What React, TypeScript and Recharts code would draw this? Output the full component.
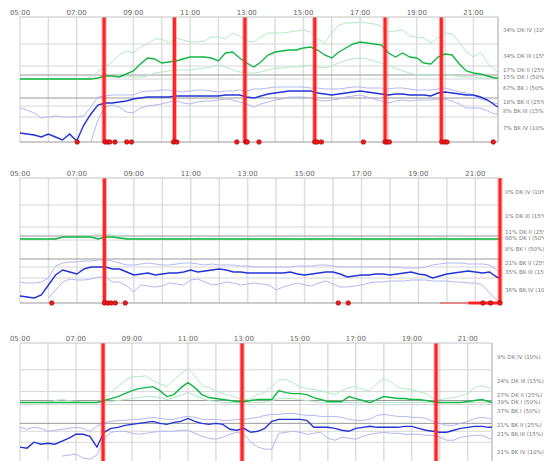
import React from "react";
import {
  ComposedChart,
  Line,
  Scatter,
  XAxis,
  YAxis,
  CartesianGrid,
  ReferenceLine,
} from "recharts";

// time axis in minutes after midnight, samples every 15 min + one at the right edge
const START = 300; // 05:00
const END = 1312; // ~21:52
const STEP = 15;
const HOUR_TICKS = [300, 360, 420, 480, 540, 600, 660, 720, 780, 840, 900, 960, 1020, 1080, 1140, 1200, 1260];

// depth scale: 0 = top of a panel, 125 = bottom
const BAND_LINES = [27, 49, 58, 62, 81, 89, 100];
const BAND_DARK = [58, 81];

const GREEN = "#12b845";
const GREEN_LIGHT = "#b4e9c4";
const BLUE = "#2433d6";
const BLUE_LIGHT = "#b3b7f4";
const RED = "#ff2424";
const FONT = "DejaVu Sans, Verdana, sans-serif";

// ---------- panel 1 ----------
const P1_LABELS = ["34% DK IV (10%)", "34% DK III (15%)", "17% DK II (25%)", "15% DK I (50%)", "67% BK I (50%)", "18% BK II (25%)", "8% BK III (15%)", "7% BK IV (10%)"];
const P1_LEVELS = [13, 39, 53, 60, 71, 85, 94, 111];
const P1_EVENTS = [478, 627, 776, 924, 1073, 1192];
const P1_ALARMS = [421, 480, 485, 490, 501, 526, 536, 625, 632, 759, 778, 781, 806, 924, 929, 938, 1027, 1073, 1077, 1082, 1193, 1199, 1204, 1302];
const P1_DK = [
  62, 62, 62, 62, 62, 62, 62, 62, 62, 62, 62, 61, 59, 59, 60, 57,
  54, 47, 41, 42, 46, 45, 44, 42, 40, 40, 40, 41, 44, 36, 35, 41,
  46, 50, 45, 38, 35, 34, 33, 33, 31, 30, 33, 38, 41, 35, 31, 27,
  25, 26, 27, 28, 36, 40, 36, 40, 41, 46, 47, 40, 37, 38, 47, 54,
  56, 57, 59, 61, 61,
];
const P1_DK_HI = [
  62, 62, 62, 62, 62, 62, 62, 62, 62, 62, 60, 55, 50, 45, 38, 34,
  36, 30, 27, 22, 22, 26, 21, 23, 25, 25, 24, 20, 20, 22, 16, 19,
  24, 25, 20, 16, 16, 16, 15, 14, 13, 15, 22, 26, 16, 8, 6, 6,
  5, 6, 7, 9, 15, 14, 13, 19, 20, 21, 26, 21, 16, 17, 25, 35,
  40, 35, 46, 53, 55,
];
const P1_DK_LO = [
  62, 62, 62, 62, 62, 62, 62, 62, 62, 62, 62, 61, 59, 59, 60, 59,
  60, 60, 59, 56, 55, 54, 53, 53, 53, 52, 51, 50, 48, 50, 53, 55,
  56, 56, 55, 53, 51, 51, 50, 50, 49, 48, 50, 51, 49, 46, 43, 42,
  41, 42, 44, 46, 49, 51, 54, 56, 58, 58, 58, 58, 57, 58, 60, 60,
  60, 61, 61, 61, 61,
];
const P1_BK = [
  116, 117, 118, 120, 117, 120, 123, 117, 124, 108, 97, 88, 86, 86, 85, 84,
  82, 81, 80, 80, 80, 80, 79, 79, 79, 79, 79, 79, 79, 78, 78, 78,
  80, 81, 79, 77, 76, 75, 74, 74, 74, 74, 76, 77, 78, 77, 76, 75,
  74, 75, 76, 77, 78, 77, 77, 78, 78, 78, 79, 76, 75, 76, 77, 78,
  78, 80, 83, 88, 90,
];
const P1_BK_HI = [
  91, 93, 96, 101, 100, 99, 100, 100, 100, 99, 90, 80, 79, 78, 78, 78,
  78, 75, 74, 74, 73, 73, 74, 75, 74, 73, 73, 74, 75, 74, 74, 73,
  74, 72, 72, 71, 70, 70, 70, 70, 70, 71, 71, 72, 72, 72, 71, 70,
  70, 71, 71, 71, 72, 71, 71, 72, 73, 73, 73, 72, 71, 73, 75, 76,
  78, 82, 84, 86, 87,
];
const P1_BK_LO = [
  null, null, null, null, null, null, null, null, null, null, 125, 103, 90, 88, 90, 95,
  96, 91, 89, 88, 87, 85, 84, 86, 87, 85, 84, 84, 83, 82, 83, 85,
  87, 90, 87, 85, 83, 82, 80, 80, 80, 81, 83, 84, 83, 82, 80, 79,
  78, 80, 82, 84, 86, 84, 83, 84, 83, 83, 83, 82, 82, 84, 87, 91,
  91, 91, 94, 97, 97,
];

// ---------- panel 2 ----------
const P2_LABELS = ["0% DK IV (10%)", "1% DK III (15%)", "11% DK II (25%)", "88% DK I (50%)", "8% BK I (50%)", "21% BK II (25%)", "35% BK III (15%)", "36% BK IV (10%)"];
const P2_LEVELS = [14, 38, 54, 60, 71, 85, 94, 112];
const P2_EVENTS = [478, 1312];
const P2_ALARMS = [367, 478, 485, 492, 501, 522, 971, 992, 1276, 1292, 1312];
const P2_TRACE_FAINT = [1185, 1245];
const P2_TRACE = [1245, 1312];
const P2_DK = [
  61, 61, 61, 61, 61, 61, 59, 59, 59, 59, 59, 61, 59, 59, 60, 61,
  61, 61, 61, 61, 61, 61, 61, 61, 61, 61, 61, 61, 61, 61, 61, 61,
  61, 61, 61, 61, 61, 61, 61, 61, 61, 61, 61, 61, 61, 61, 61, 61,
  61, 61, 61, 61, 61, 61, 61, 61, 61, 61, 61, 61, 61, 61, 61, 61,
  61, 61, 61, 61, 61,
];
const P2_DK_HI = [
  61, 61, 61, 61, 61, 61, 59, 59, 59, 59, 58, 56, 56, 57, 58, 61,
  61, 61, 61, 61, 61, 61, 61, 61, 61, 60, 61, 61, 61, 61, 61, 61,
  61, 61, 61, 61, 61, 61, 61, 61, 61, 61, 61, 61, 60, 61, 61, 61,
  61, 61, 61, 61, 61, 61, 61, 61, 61, 61, 61, 60, 60, 61, 61, 61,
  61, 61, 61, 61, 61,
];
const P2_BK = [
  118, 119, 120, 117, 107, 97, 92, 94, 96, 91, 89, 89, 89, 91, 91, 94,
  97, 96, 95, 97, 96, 95, 95, 94, 92, 94, 93, 92, 91, 92, 94, 94,
  95, 95, 95, 95, 95, 95, 94, 96, 97, 96, 95, 94, 94, 96, 99, 98,
  97, 97, 96, 96, 97, 96, 95, 94, 96, 97, 100, 98, 96, 95, 94, 93,
  94, 95, 94, 99, 100,
];
const P2_BK_HI = [
  104, 105, 105, 104, 100, 88, 85, 84, 84, 83, 83, 82, 82, 83, 85, 87,
  87, 86, 85, 86, 87, 87, 86, 85, 85, 86, 87, 86, 87, 87, 87, 88,
  88, 89, 89, 89, 89, 89, 89, 88, 88, 88, 87, 87, 88, 89, 89, 89,
  89, 89, 89, 89, 89, 89, 90, 90, 90, 89, 87, 86, 85, 85, 85, 86,
  86, 86, 87, 92, 95,
];
const P2_BK_LO = [
  null, null, null, null, 120, 112, 104, 101, 102, 102, 101, 99, 99, 104, 104, 108,
  114, 107, 108, 109, 108, 105, 106, 107, 102, 101, 104, 107, 106, 104, 105, 107,
  106, 105, 106, 107, 112, 109, 107, 105, 107, 108, 105, 103, 106, 109, 109, 108,
  107, 105, 104, 104, 103, 103, 103, 102, 102, 102, 103, 103, 103, 104, 104, 105,
  105, 107, 115, 122, 124,
];

// ---------- panel 3 ----------
const P3_LABELS = ["9% DK IV (10%)", "24% DK III (15%)", "27% DK II (25%)", "39% DK I (50%)", "37% BK I (50%)", "21% BK II (25%)", "21% BK III (15%)", "21% BK IV (10%)"];
const P3_LEVELS = [14, 38, 52, 59, 69, 83, 92, 110];
const P3_EVENTS = [478, 776, 1192];
const P3_ALARMS: number[] = [];
const P3_DK = [
  60, 60, 60, 60, 60, 60, 60, 60, 60, 60, 60, 60, 58, 56, 54, 51,
  48, 46, 45, 44, 48, 54, 52, 45, 40, 45, 52, 55, 56, 57, 58, 59,
  59, 58, 57, 57, 57, 48, 50, 51, 51, 52, 55, 57, 59, 59, 59, 54,
  56, 58, 60, 57, 54, 55, 56, 56, 57, 57, 58, 59, 60, 60, 60, 60,
  59, 58, 57, 59, 60,
];
const P3_DK_HI = [
  60, 60, 60, 60, 60, 58, 57, 58, 59, 60, 60, 60, 56, 50, 44, 38,
  34, 34, 33, 38, 41, 44, 37, 31, 26, 33, 43, 45, 48, 51, 53, 55,
  57, 56, 52, 50, 44, 37, 37, 40, 44, 46, 47, 48, 50, 52, 48, 45,
  44, 47, 48, 41, 36, 39, 45, 46, 47, 49, 51, 56, 57, 56, 55, 53,
  51, 45, 43, 45, 46,
];
const P3_DK_LO = [
  60, 60, 60, 60, 60, 60, 60, 60, 60, 60, 60, 60, 60, 59, 58, 57,
  56, 55, 54, 54, 55, 57, 55, 53, 50, 53, 56, 58, 59, 60, 60, 60,
  60, 60, 60, 60, 58, 56, 56, 56, 57, 58, 59, 60, 60, 60, 60, 60,
  60, 60, 60, 60, 60, 60, 60, 60, 60, 60, 60, 60, 60, 60, 60, 60,
  60, 60, 60, 60, 60,
];
const P3_BK = [
  105, 106, 100, 102, 101, 102, 99, 96, 92, 92, 94, 105, 90, 86, 85, 83,
  82, 81, 80, 79, 81, 82, 80, 79, 76, 79, 81, 82, 81, 82, 87, 88,
  86, 90, 89, 86, 79, 77, 77, 77, 77, 78, 85, 85, 85, 86, 88, 89,
  86, 85, 84, 85, 85, 85, 85, 84, 84, 86, 88, 89, 90, 90, 88, 86,
  85, 84, 84, 85, 85,
];
const P3_BK_HI = [
  85, 87, 85, 86, 89, 88, 87, 86, 85, 86, 89, 84, 80, 79, 78, 78,
  77, 77, 76, 75, 76, 77, 77, 75, 74, 75, 77, 77, 77, 78, 78, 77,
  77, 76, 75, 73, 72, 72, 71, 71, 72, 73, 73, 74, 74, 74, 75, 77,
  78, 78, 77, 73, 72, 73, 74, 74, 75, 75, 76, 79, 81, 83, 83, 81,
  79, 76, 75, 76, 77,
];
const P3_BK_LO = [
  null, null, null, null, null, null, 114, 113, 112, 116, 117, 113, 97, 90, 89, 89,
  91, 92, 91, 90, 89, 89, 89, 88, 88, 91, 94, 96, 97, 95, 92, 90,
  92, 100, 105, 107, 107, 91, 90, 89, 90, 92, 91, 90, 96, 98, 95, 96,
  97, 94, 92, 91, 90, 91, 91, 92, 92, 92, 93, 93, 95, 98, 98, 95,
  94, 93, 93, 96, 97,
];

type Num = number | null;

function buildRows(dk: Num[], dkHi: Num[], dkLo: Num[], bk: Num[], bkHi: Num[], bkLo: Num[]) {
  return dk.map((_, i) => ({
    t: i === dk.length - 1 ? END : START + i * STEP,
    dk: dk[i],
    dkHi: dkHi[i],
    dkLo: dkLo[i],
    bk: bk[i],
    bkHi: bkHi[i],
    bkLo: bkLo[i],
  }));
}

const hourLabel = (m: number) => {
  const h = m / 60;
  return h % 2 === 1 ? `${String(h).padStart(2, "0")}:00` : "";
};

const AlarmDot = (p: any) => (
  <circle cx={p.cx} cy={p.cy} r={2.3} fill="#f01818" stroke="#a00000" strokeWidth={0.6} />
);

type PanelProps = {
  top: number;
  plotWidth: number;
  plotHeight: number;
  rows: ReturnType<typeof buildRows>;
  labels: string[];
  levels: number[];
  events: number[];
  alarms: number[];
  traceFaint?: number[];
  trace?: number[];
};

function Panel({ top, plotWidth, plotHeight, rows, labels, levels, events, alarms, traceFaint, trace }: PanelProps) {
  const axisH = 17;
  const left = 20;
  // band labels: plain svg text so they don't wrap inside the narrow axis
  const bandTick = (p: any) => (
    <text
      x={p.x + 3}
      y={p.y}
      dy={2}
      fontSize={5.5}
      fill="#777"
      fontFamily={FONT}
      textAnchor="start"
    >
      {labels[levels.indexOf(p.payload.value)]}
    </text>
  );
  return (
    <div style={{ position: "absolute", left: 0, top: top - axisH }}>
      <ComposedChart
        width={544}
        height={axisH + plotHeight + 8}
        data={rows}
        margin={{ top: 0, right: 0, left, bottom: 8 }}
      >
        <CartesianGrid vertical horizontal={false} stroke="#dedede" strokeWidth={1.5} />
        <XAxis
          dataKey="t"
          type="number"
          orientation="top"
          domain={[START, END]}
          ticks={HOUR_TICKS}
          interval={0}
          height={axisH}
          tickFormatter={hourLabel}
          tickLine={false}
          tickSize={0}
          tickMargin={2}
          axisLine={{ stroke: "#c4c4c4" }}
          tick={{ fontSize: 7, fill: "#666", fontFamily: FONT }}
        />
        <YAxis
          type="number"
          orientation="right"
          domain={[0, 125]}
          reversed
          ticks={levels}
          interval={0}
          width={544 - left - plotWidth}
          axisLine={false}
          tickLine={false}
          tickSize={0}
          tick={bandTick}
        />
        {BAND_LINES.map((v) => (
          <ReferenceLine
            key={v}
            y={v}
            stroke={BAND_DARK.includes(v) ? "#999" : "#d6d6d6"}
            strokeWidth={1}
          />
        ))}
        <ReferenceLine y={125} stroke="#999" />
        <ReferenceLine x={END} stroke="#bbb" />

        <Line dataKey="dkHi" stroke={GREEN_LIGHT} strokeWidth={1} dot={false} isAnimationActive={false} />
        <Line dataKey="dkLo" stroke={GREEN_LIGHT} strokeWidth={1} dot={false} isAnimationActive={false} />
        <Line dataKey="bkHi" stroke={BLUE_LIGHT} strokeWidth={1} dot={false} isAnimationActive={false} />
        <Line dataKey="bkLo" stroke={BLUE_LIGHT} strokeWidth={1} dot={false} isAnimationActive={false} />
        <Line dataKey="dk" stroke={GREEN} strokeWidth={1.4} dot={false} isAnimationActive={false} />
        <Line dataKey="bk" stroke={BLUE} strokeWidth={1.4} dot={false} isAnimationActive={false} />

        {events.map((t) => (
          <ReferenceLine key={`h${t}`} x={t} stroke={RED} strokeOpacity={0.35} strokeWidth={5} />
        ))}
        {events.map((t) => (
          <ReferenceLine key={`e${t}`} x={t} stroke={RED} strokeWidth={3} />
        ))}

        {traceFaint && (
          <Line
            data={traceFaint.map((t) => ({ t, y: 125 }))}
            dataKey="y"
            stroke={RED}
            strokeOpacity={0.4}
            strokeWidth={2}
            dot={false}
            isAnimationActive={false}
          />
        )}
        {trace && (
          <Line
            data={trace.map((t) => ({ t, y: 125 }))}
            dataKey="y"
            stroke={RED}
            strokeWidth={3}
            dot={false}
            isAnimationActive={false}
          />
        )}
        {alarms.length > 0 && (
          <Scatter
            data={alarms.map((t) => ({ t, y: 125 }))}
            dataKey="y"
            shape={AlarmDot}
            isAnimationActive={false}
          />
        )}
      </ComposedChart>
    </div>
  );
}

export default function App() {
  const rows1 = buildRows(P1_DK, P1_DK_HI, P1_DK_LO, P1_BK, P1_BK_HI, P1_BK_LO);
  const rows2 = buildRows(P2_DK, P2_DK_HI, P2_DK, P2_BK, P2_BK_HI, P2_BK_LO);
  const rows3 = buildRows(P3_DK, P3_DK_HI, P3_DK_LO, P3_BK, P3_BK_HI, P3_BK_LO);
  return (
    <div
      style={{
        position: "absolute",
        left: 0,
        top: 0,
        width: 544,
        height: 461,
        overflow: "hidden",
        background: "#fff",
        fontFamily: FONT,
      }}
    >
      <Panel top={17} plotWidth={478} plotHeight={125} rows={rows1} labels={P1_LABELS} levels={P1_LEVELS} events={P1_EVENTS} alarms={P1_ALARMS} />
      <Panel top={178} plotWidth={480} plotHeight={125} rows={rows2} labels={P2_LABELS} levels={P2_LEVELS} events={P2_EVENTS} alarms={P2_ALARMS} traceFaint={P2_TRACE_FAINT} trace={P2_TRACE} />
      <Panel top={343} plotWidth={472} plotHeight={124} rows={rows3} labels={P3_LABELS} levels={P3_LEVELS} events={P3_EVENTS} alarms={P3_ALARMS} />
    </div>
  );
}
